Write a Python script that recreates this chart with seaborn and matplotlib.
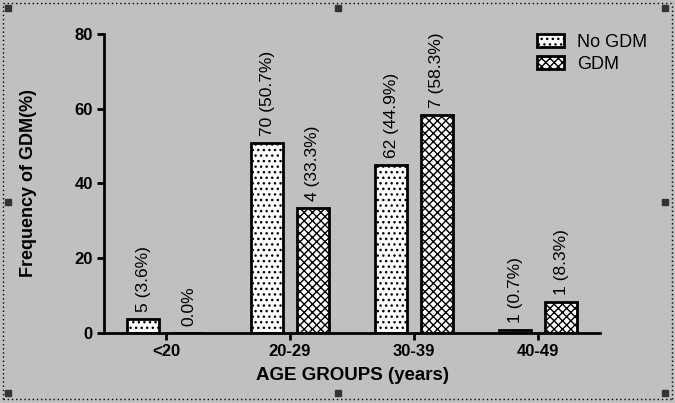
import pandas as pd
import matplotlib.pyplot as plt
import seaborn as sns
from matplotlib.lines import Line2D
from matplotlib.patches import Patch

grupos = ['<20', '20-29', '30-39', '40-49']
no_gdm = [3.6, 50.7, 44.9, 0.7]
gdm = [0.0, 33.3, 58.3, 8.3]
rot_no_gdm = ['5 (3.6%)', '70 (50.7%)', '62 (44.9%)', '1 (0.7%)']
rot_gdm = ['0.0%', '4 (33.3%)', '7 (58.3%)', '1 (8.3%)']
series = ['No GDM', 'GDM']

CINZA = '#c0c0c0'

df = pd.DataFrame({
    'grupo': grupos * 2,
    'freq': no_gdm + gdm,
    'serie': [series[0]] * 4 + [series[1]] * 4,
})

sns.set_theme(style='ticks')
plt.rcParams['font.family'] = ['Liberation Sans', 'DejaVu Sans']
plt.rcParams['text.color'] = 'black'
plt.rcParams['axes.labelcolor'] = 'black'
plt.rcParams['xtick.color'] = 'black'
plt.rcParams['ytick.color'] = 'black'
plt.rcParams['hatch.linewidth'] = 1.0

fig = plt.figure(figsize=(6.75, 4.03), dpi=100, facecolor=CINZA)
ax = fig.add_axes([0.154, 0.174, 0.735, 0.742])
ax.set_facecolor(CINZA)

sns.barplot(data=df, x='grupo', y='freq', hue='serie', order=grupos,
            hue_order=series, width=0.74, gap=0.3, palette=['white', 'white'],
            edgecolor='black', linewidth=2, ax=ax, legend=False)

hatches = {0: '...', 1: 'xxxx'}
for i, cont in enumerate(ax.containers):
    for bar in cont:
        bar.set_hatch(hatches[i])
        bar.set_edgecolor('black')
    labels = rot_no_gdm if i == 0 else rot_gdm
    ax.bar_label(cont, labels=labels, rotation=90, padding=5, fontsize=12.5)

ax.set_xlim(-0.5, 3.5)
ax.set_ylim(0, 80)
ax.set_yticks([0, 20, 40, 60, 80])
sns.despine(ax=ax)
for s in ['left', 'bottom']:
    ax.spines[s].set_linewidth(2)
    ax.spines[s].set_color('black')
ax.tick_params(width=2, length=5, labelsize=12, pad=3)
for t in ax.get_xticklabels() + ax.get_yticklabels():
    t.set_fontweight('bold')
ax.set_xlabel('AGE GROUPS (years)', fontsize=13.5, fontweight='bold', labelpad=6)
ax.set_ylabel('Frequency of GDM(%)', fontsize=13, fontweight='bold', labelpad=27)

handles = [Patch(facecolor='white', edgecolor='black', hatch=hatches[0], linewidth=2),
           Patch(facecolor='white', edgecolor='black', hatch=hatches[1], linewidth=2)]
fig.legend(handles, series, loc='upper left', bbox_to_anchor=(0.772, 0.957),
           frameon=False, fontsize=13, handlelength=1.5, handleheight=0.7,
           handletextpad=0.7, labelspacing=0.3)

# moldura pontilhada com alças
for xs, ys in [([0.005, 0.995], [0.993, 0.993]), ([0.005, 0.995], [0.01, 0.01]),
               ([0.005, 0.005], [0.01, 0.993]), ([0.995, 0.995], [0.01, 0.993])]:
    fig.add_artist(Line2D(xs, ys, color='black', linestyle=(0, (1, 2)), linewidth=1))
for x in [0.012, 0.5, 0.985]:
    for y in [0.025, 0.5, 0.98]:
        if x == 0.5 and y == 0.5:
            continue
        fig.add_artist(Line2D([x], [y], marker='s', markersize=4, color='#333333'))

fig.savefig('out.png', dpi=100, facecolor=CINZA)
